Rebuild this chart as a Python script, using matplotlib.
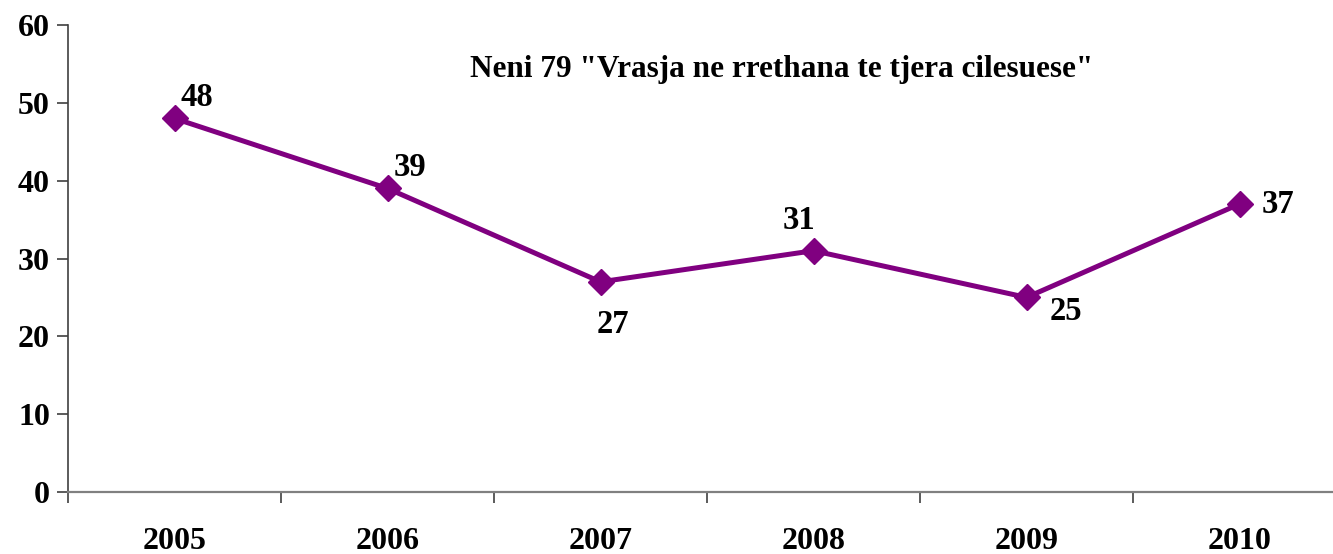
import matplotlib
matplotlib.use("Agg")
import matplotlib.pyplot as plt

years = ["2005", "2006", "2007", "2008", "2009", "2010"]
values = [48, 39, 27, 31, 25, 37]
title = 'Neni 79 "Vrasja ne rrethana te tjera cilesuese"'
# label offsets in pixels (dx, dy) relative to the point
label_offsets = [(22, 21), (22, 21), (12, -43), (-14, 30), (39, -14), (38, 0)]

plt.rcParams['font.family'] = ['Liberation Serif', 'DejaVu Serif']
plt.rcParams['font.weight'] = 'bold'

W, H = 1333, 554
fig = plt.figure(figsize=(W / 100, H / 100), dpi=100)
left, right, top, bottom = 68, 1346, 25, 492
ax = fig.add_axes([left / W, (H - bottom) / H, (right - left) / W, (bottom - top) / H])

x = list(range(len(years)))
ax.plot(x, values, color='#800080', lw=3.6, marker='D', markersize=13,
        markerfacecolor='#800080', markeredgecolor='#800080', clip_on=False)

for xi, v, (dx, dy) in zip(x, values, label_offsets):
    ax.annotate(str(v), (xi, v), xytext=(dx * 0.72, dy * 0.72), textcoords='offset points',
                ha='center', va='center', fontsize=23.5, fontweight='bold')

ax.set_xlim(-0.5, len(years) - 0.5)
ax.set_ylim(0, 60)
ax.set_yticks(range(0, 61, 10))
ax.set_yticklabels([str(t) for t in range(0, 61, 10)], fontsize=23, fontweight='bold')
ax.set_xticks(x)
ax.set_xticklabels(years, fontsize=23, fontweight='bold')
ax.set_xticks([i + 0.5 for i in range(-1, len(years))], minor=True)
ax.tick_params(axis='x', which='major', length=0, pad=25)
ax.tick_params(axis='x', which='minor', length=8, width=1.2, color='#404040')
ax.tick_params(axis='y', length=8, width=1.2, color='#404040', pad=5)

for s in ['top', 'right']:
    ax.spines[s].set_visible(False)
ax.spines['left'].set_color('#404040')
ax.spines['bottom'].set_color('#808080')
ax.spines['left'].set_linewidth(1.2)
ax.spines['bottom'].set_linewidth(1.6)

fig.text(782 / W, 1 - 69 / H, title, ha='center', va='center', fontsize=22.5, fontweight='bold')

fig.savefig('out.png', dpi=100)
